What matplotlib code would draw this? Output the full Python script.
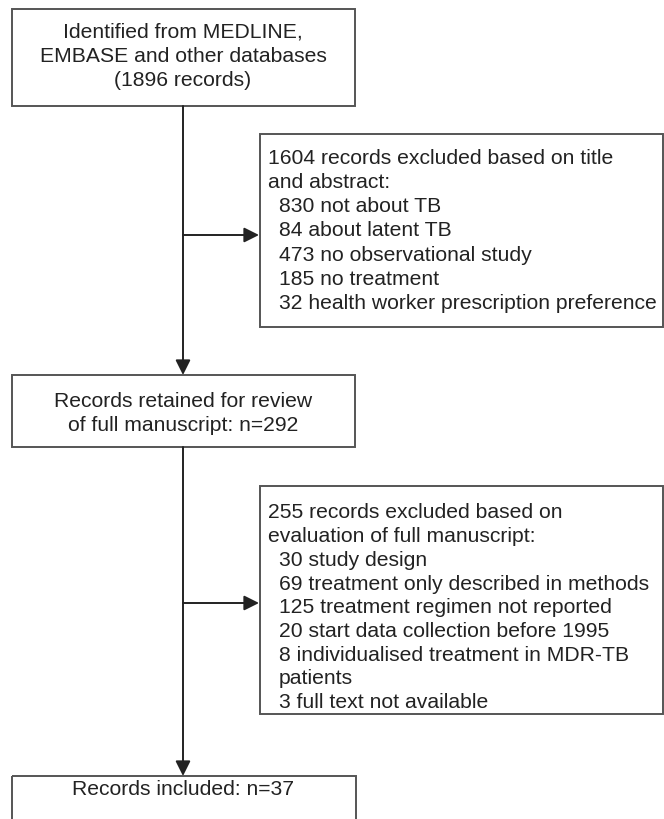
import matplotlib.pyplot as plt
from matplotlib.patches import Rectangle

plt.rcParams['font.family'] = ['Liberation Sans', 'DejaVu Sans']

# Box texts of the flow diagram
txt_identified = ["Identified from MEDLINE,", "EMBASE and other databases", "(1896 records)"]
txt_excl1_head = ["1604 records excluded based on title", "and abstract:"]
txt_excl1_items = ["830 not about TB", "84 about latent TB", "473 no observational study",
                   "185 no treatment", "32 health worker prescription preference"]
txt_retained = ["Records retained for review", "of full manuscript: n=292"]
txt_excl2_head = ["255 records excluded based on", "evaluation of full manuscript:"]
txt_excl2_items = ["30 study design", "69 treatment only described in methods",
                   "125 treatment regimen not reported", "20 start data collection before 1995",
                   "8 individualised treatment in MDR-TB", "patients", "3 full text not available"]
txt_included = ["Records included: n=37"]

W, H = 664, 820
fig = plt.figure(figsize=(W / 100, H / 100), dpi=100)
ax = fig.add_axes([0, 0, 1, 1])
ax.set_xlim(0, W)
ax.set_ylim(H, 0)
ax.axis('off')

box_col = '#555555'
arr_col = '#222222'
fs = 15.2


def box(x0, y0, x1, y1):
    ax.add_patch(Rectangle((x0, y0), x1 - x0, y1 - y0, fill=False,
                           edgecolor=box_col, linewidth=1.4, clip_on=False))


def centred(lines, cx, cy, step=24.0):
    y = cy - step * (len(lines) - 1) / 2
    for ln in lines:
        ax.text(cx, y, ln, ha='center', va='center', fontsize=fs, color='#222222')
        y += step


def left_block(head, items, x, y, step=24.0):
    for ln in head:
        ax.text(x, y, ln, ha='left', va='center', fontsize=fs, color='#222222')
        y += step
    for ln in items:
        ax.text(x + 11, y, ln, ha='left', va='center', fontsize=fs, color='#222222')
        y += step


def arrow(x0, y0, x1, y1):
    ax.annotate('', xy=(x1, y1), xytext=(x0, y0),
                arrowprops=dict(arrowstyle='-|>,head_length=0.9,head_width=0.45',
                                color=arr_col, lw=1.4, shrinkA=0, shrinkB=0))


cx = 183

# boxes
box(12, 10, 355, 107)
box(260, 135, 663, 328)
box(12, 376, 355, 448)
box(260, 487, 663, 715)
box(12, 777, 356, 830)

# text
centred(txt_identified, cx, 56)
left_block(txt_excl1_head, txt_excl1_items, 268, 158, step=24.3)
centred(txt_retained, cx, 414)
left_block(txt_excl2_head, txt_excl2_items, 268, 513, step=23.7)
centred(txt_included, cx, 790)

# connectors
arrow(cx, 107, cx, 376)
arrow(cx, 236, 259, 236)
arrow(cx, 448, cx, 777)
arrow(cx, 604, 259, 604)

fig.savefig('out.png', dpi=100)
